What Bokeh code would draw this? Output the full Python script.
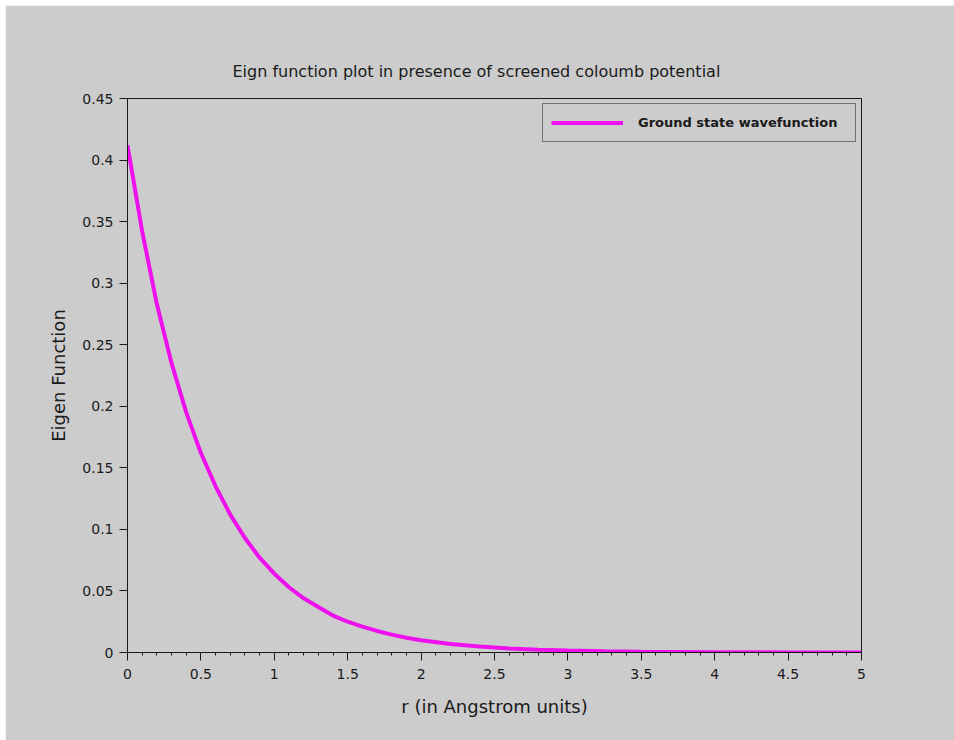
from bokeh.plotting import figure
from bokeh.models import FixedTicker, Legend, LegendItem, Title
from bokeh.embed import file_html
from bokeh.resources import INLINE

# Ground state radial wavefunction sampled along r (Angstrom)
r_values = [0.0, 0.1, 0.2, 0.3, 0.4, 0.5, 0.6, 0.7, 0.8, 0.9, 1.0, 1.1, 1.2, 1.3,
            1.4, 1.5, 1.6, 1.7, 1.8, 1.9, 2.0, 2.2, 2.4, 2.6, 2.8, 3.0, 3.25, 3.5,
            4.0, 4.5, 5.0]
psi_values = [0.412, 0.342, 0.283, 0.235, 0.195, 0.162, 0.135, 0.112, 0.093, 0.077,
              0.064, 0.053, 0.044, 0.037, 0.030, 0.025, 0.021, 0.0175, 0.0145, 0.012,
              0.010, 0.0069, 0.0048, 0.0033, 0.0023, 0.0016, 0.0010, 0.0006,
              0.0002, 0.0001, 0.0]

x_ticks = [0, 0.5, 1, 1.5, 2, 2.5, 3, 3.5, 4, 4.5, 5]
x_tick_labels = ["0", "0.5", "1", "1.5", "2", "2.5", "3", "3.5", "4", "4.5", "5"]
x_minor_ticks = [i / 10 for i in range(51)]
y_ticks = [0, 0.05, 0.1, 0.15, 0.2, 0.25, 0.3, 0.35, 0.4, 0.45]
y_tick_labels = ["0", "0.05", "0.1", "0.15", "0.2", "0.25", "0.3", "0.35", "0.4", "0.45"]

title_text = "Eign function plot in presence of screened coloumb potential"
x_label = "r (in Angstrom units)"
y_label = "Eigen Function"
series_name = "Ground state wavefunction"

BG = "#cccccc"
INK = "#1a1a1a"
FONT = "DejaVu Sans"

p = figure(width=949, height=735, x_range=(0, 5), y_range=(0, 0.45),
           output_backend="svg", toolbar_location=None,
           background_fill_color=BG, border_fill_color=BG,
           min_border_left=122, min_border_right=93,
           min_border_top=93, min_border_bottom=88,
           margin=(5, 0, 0, 5))
p.outline_line_color = INK
p.outline_line_width = 1
p.grid.visible = False

t = Title(text=title_text, align="left", offset=105,
          text_font=FONT, text_font_size="16px", text_font_style="normal",
          text_color=INK, standoff=35)
p.add_layout(t, "above")

xa = p.xaxis[0]
xa.ticker = FixedTicker(ticks=x_ticks, minor_ticks=x_minor_ticks)
xa.major_label_overrides = dict(zip(x_ticks, x_tick_labels))
ya = p.yaxis[0]
ya.ticker = FixedTicker(ticks=y_ticks, minor_ticks=[])
ya.major_label_overrides = dict(zip(y_ticks, y_tick_labels))

for ax in (xa, ya):
    ax.axis_line_color = INK
    ax.major_tick_line_color = INK
    ax.minor_tick_line_color = INK
    ax.major_tick_in = 0
    ax.major_tick_out = 8
    ax.minor_tick_in = 0
    ax.minor_tick_out = 3
    ax.major_label_text_font = FONT
    ax.major_label_text_font_size = "14px"
    ax.major_label_text_color = INK
    ax.axis_label_text_font = FONT
    ax.axis_label_text_font_size = "18px"
    ax.axis_label_text_font_style = "normal"
    ax.axis_label_text_color = INK

xa.axis_label = x_label
ya.axis_label = y_label
xa.major_label_standoff = 8
ya.major_label_standoff = 6
xa.axis_label_standoff = 14
ya.axis_label_standoff = 10

line = p.line(r_values, psi_values, line_color="#ee11ee", line_width=4)

legend = Legend(items=[LegendItem(label=series_name, renderers=[line])],
                location="top_right", margin=5, padding=8,
                glyph_width=72, glyph_height=21, label_standoff=15,
                label_width=209,
                label_text_font=FONT, label_text_font_size="13px",
                label_text_font_style="bold", label_text_color=INK,
                border_line_color=INK, border_line_width=1,
                background_fill_color=BG, background_fill_alpha=1)
p.add_layout(legend)

open("out.html", "w").write(file_html(p, INLINE))
